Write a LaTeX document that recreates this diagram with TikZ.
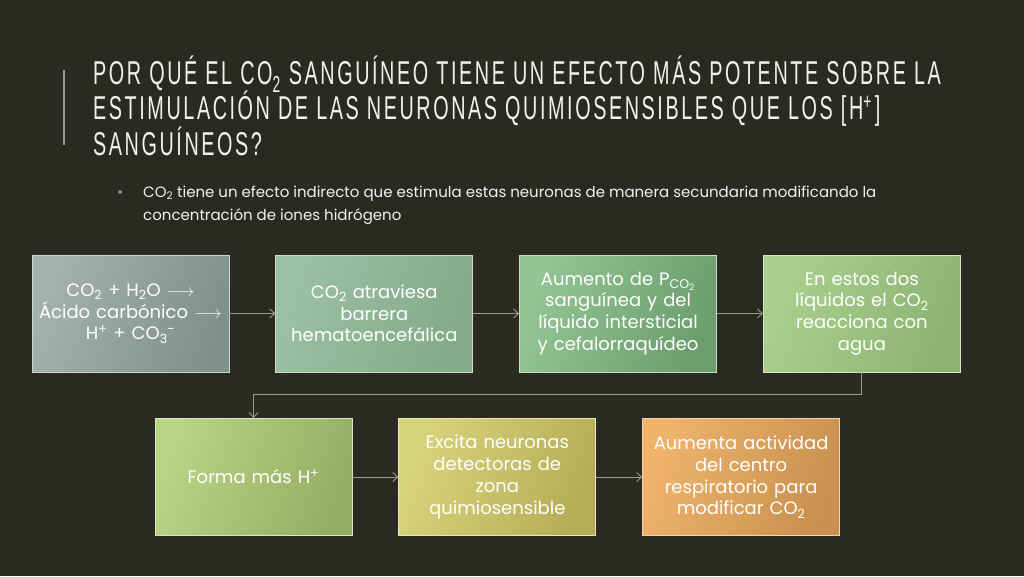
\documentclass[tikz,border=0pt]{standalone}
\usepackage{fontspec}
\setmainfont{Poppins}
\newfontfamily\titlefont[FakeStretch=0.6,LetterSpace=7.8]{Liberation Sans}
\usetikzlibrary{arrows.meta, positioning}
\definecolor{bgdark}{HTML}{2B2A22}
\definecolor{titlewhite}{HTML}{F2F2EC}
\definecolor{rulegray}{HTML}{8E9C94}
\definecolor{arrowgray}{HTML}{9A9A8A}
\definecolor{boxAa}{HTML}{A3B2AC}\definecolor{boxAb}{HTML}{7F918A}
\definecolor{boxBa}{HTML}{9CC0A2}\definecolor{boxBb}{HTML}{83AA89}
\definecolor{boxCa}{HTML}{93C493}\definecolor{boxCb}{HTML}{6C9D6E}
\definecolor{boxDa}{HTML}{ABD08E}\definecolor{boxDb}{HTML}{8CB372}
\definecolor{boxEa}{HTML}{B8D486}\definecolor{boxEb}{HTML}{94AE65}
\definecolor{boxFa}{HTML}{D8D47C}\definecolor{boxFb}{HTML}{B5AD55}
\definecolor{boxGa}{HTML}{EFB36C}\definecolor{boxGb}{HTML}{C8914F}
\newcommand{\cotwo}{CO\textsubscript{2}}

\begin{document}
\begin{tikzpicture}[x=1pt, y=-1pt,
  flowbox/.style 2 args={left color=#1, right color=#2, shading angle=70,
    draw=white!45!#1, line width=0.8pt, minimum width=197pt, minimum height=117pt,
    text width=185pt, align=center, inner sep=3pt, text=white,
    font=\fontsize{18}{21.7}\selectfont},
  flowarrow/.style={draw=arrowgray, line width=0.9pt, -{Straight Barb[length=5pt,width=9pt]}},
  titleline/.style={anchor=base west, inner sep=0pt, text=titlewhite,
    font=\titlefont\fontsize{33}{35}\selectfont},
  bulletline/.style={anchor=base west, inner sep=0pt, text=titlewhite,
    font=\fontsize{15}{23}\selectfont}]
\fill[bgdark] (0,0) rectangle (1024,576);
\useasboundingbox (0,0) rectangle (1024,576);

% title
\draw[rulegray, line width=2pt] (64,70) -- (64,145);
\node[titleline] (title1) at (93,84.5) {POR QUÉ EL \cotwo{} SANGUÍNEO TIENE UN EFECTO MÁS POTENTE SOBRE LA};
\node[titleline] (title2) at (93,119) {ESTIMULACIÓN DE LAS NEURONAS QUIMIOSENSIBLES QUE LOS [H\textsuperscript{+}\kern3pt]};
\node[titleline] (title3) at (93,155) {SANGUÍNEOS?};

% bullet
\node[bulletline, text=rulegray] (dot) at (117,197) {•};
\node[bulletline] (bullet1) at (143,197) {\cotwo{} tiene un efecto indirecto que estimula estas neuronas de manera secundaria modificando la};
\node[bulletline] (bullet2) at (143,220) {concentración de iones hidrógeno};

% first row
\node[flowbox={boxAa}{boxAb}] (reaccion) at (130.5,313.5)
  {\cotwo{} + H\textsubscript{2}O $\longrightarrow$\\ Ácido carbónico $\longrightarrow$\\ H\textsuperscript{+} + CO\textsubscript{3}\textsuperscript{-}};
\node[flowbox={boxBa}{boxBb}, right=46pt of reaccion] (barrera)
  {\cotwo{} atraviesa\\ barrera\\ hematoencefálica};
\node[flowbox={boxCa}{boxCb}, right=46pt of barrera] (aumento)
  {Aumento de P\textsubscript{CO\textsubscript{2}}\\ sanguínea y del\\ líquido intersticial\\ y cefalorraquídeo};
\node[flowbox={boxDa}{boxDb}, right=46pt of aumento] (liquidos)
  {En estos dos\\ líquidos el \cotwo\\ reacciona con\\ agua};

% second row
\node[flowbox={boxEa}{boxEb}] (forma) at (253.5,477) {Forma más H\textsuperscript{+}};
\node[flowbox={boxFa}{boxFb}, right=46pt of forma] (excita)
  {Excita neuronas\\ detectoras de\\ zona\\ quimiosensible};
\node[flowbox={boxGa}{boxGb}, right=46pt of excita] (respira)
  {Aumenta actividad\\ del centro\\ respiratorio para\\ modificar \cotwo};

\draw[flowarrow] (reaccion) -- (barrera);
\draw[flowarrow] (barrera) -- (aumento);
\draw[flowarrow] (aumento) -- (liquidos);
\draw[flowarrow] (liquidos.south) -- ++(0,22.5) -| (forma.north);
\draw[flowarrow] (forma) -- (excita);
\draw[flowarrow] (excita) -- (respira);
\end{tikzpicture}
\end{document}
